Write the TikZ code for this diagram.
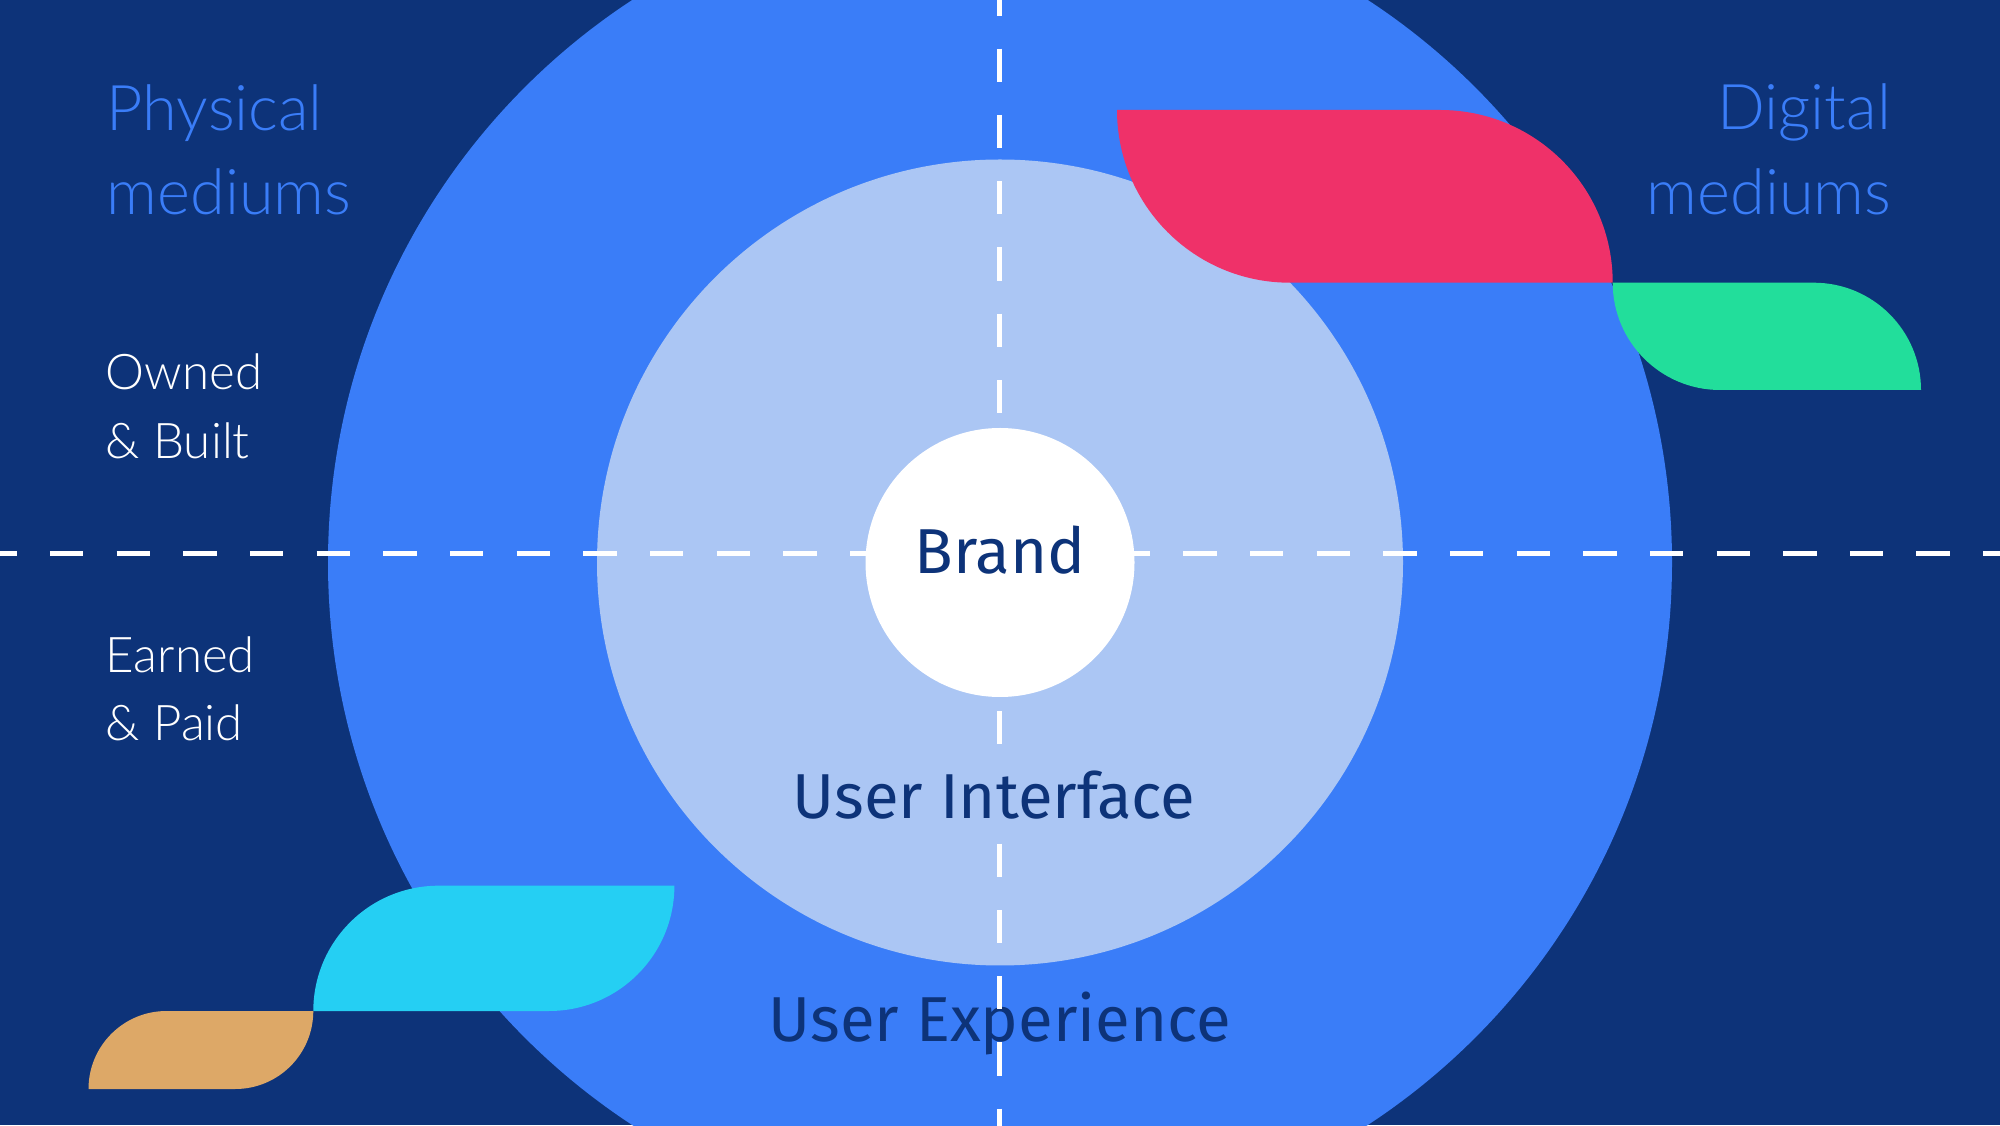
\documentclass[tikz,border=0pt]{standalone}
\usepackage{fontspec}
\setmainfont{Fira Sans}
\newfontfamily\thinfont{Lato Light}
\definecolor{bgnavy}{HTML}{0D3379}
\definecolor{bigblue}{HTML}{3A7DF8}
\definecolor{lightblue}{HTML}{ABC6F4}
\definecolor{textnavy}{HTML}{0D3379}
\definecolor{leafred}{HTML}{EF3169}
\definecolor{leafgreen}{HTML}{22DE9B}
\definecolor{leafcyan}{HTML}{25CFF3}
\definecolor{leaftan}{HTML}{DDA867}
\tikzset{
  mediumtext/.style={font=\thinfont\fontsize{63}{70}\selectfont, text=bigblue, inner sep=0pt},
  quadtext/.style={font=\thinfont\fontsize{49.2}{60}\selectfont, text=white, inner sep=0pt, anchor=base west},
  centertext/.style={font=\fontsize{63.5}{70}\selectfont, text=textnavy, inner sep=0pt, anchor=base},
  dashline/.style={draw=white, line width=5pt},
}
\begin{document}
\begin{tikzpicture}[x=1pt,y=1pt]
\useasboundingbox (0,0) rectangle (2000,1125);
\clip (0,0) rectangle (2000,1125);
\fill[bgnavy] (0,0) rectangle (2000,1125);
% rings
\fill[bigblue] (1000,562.5) circle[radius=672];
\fill[lightblue] (1000,562.5) circle[radius=403];
% leaf shapes
\fill[leafred] (1117,1015) -- (1440,1015) arc[start angle=90, end angle=0, radius=172.7]
  -- (1289.7,842.3) arc[start angle=270, end angle=180, radius=172.7] -- cycle;
\fill[leafgreen] (1612.7,842.3) -- (1813.7,842.3) arc[start angle=90, end angle=0, radius=107.3]
  -- (1720,735) arc[start angle=270, end angle=180, radius=107.3] -- cycle;
\fill[leafcyan] (313.3,114) arc[start angle=180, end angle=90, radius=125.3]
  -- (674.4,239.3) arc[start angle=0, end angle=-90, radius=125.3] -- cycle;
\fill[leaftan] (88.5,36) arc[start angle=180, end angle=90, radius=78]
  -- (313.3,114) arc[start angle=0, end angle=-90, radius=78] -- cycle;
% outer label
\node[centertext] (ux) at (1000,83.3) {User Experience};
% axes
\coordinate (hleft) at (-16.67,571.2);
\coordinate (hright) at (2030,571.2);
\coordinate (vtop) at (999.8,1142.67);
\coordinate (vbottom) at (999.8,-30);
\draw[dashline, dash pattern=on 33.33pt off 33.33pt] (hleft) -- (hright);
\draw[dashline, dash pattern=on 33.3pt off 32.95pt] (vtop) -- (vbottom);
% centre
\node[circle, fill=white, minimum size=269pt, inner sep=0pt] (brandcircle) at (1000,562.5) {};
\node[centertext] (brand) at (1000,551) {Brand};
\node[centertext, fill=lightblue, inner sep=3pt] (ui) at (994,306.7) {User Interface};
% corner labels
\node[mediumtext, anchor=base west] (phys1) at (106.5,994.3) {Physical};
\node[mediumtext, anchor=base west] (phys2) at (106.5,910) {mediums};
\node[mediumtext, anchor=base east] (dig1) at (1891,995) {Digital};
\node[mediumtext, anchor=base east] (dig2) at (1891.5,910) {mediums};
\node[quadtext] (own1) at (105.5,735) {Owned};
\node[quadtext] (own2) at (105.5,666.7) {\& Built};
\node[quadtext] (earn1) at (105.5,452.7) {Earned};
\node[quadtext] (earn2) at (105.5,384.3) {\& Paid};
\end{tikzpicture}
\end{document}
